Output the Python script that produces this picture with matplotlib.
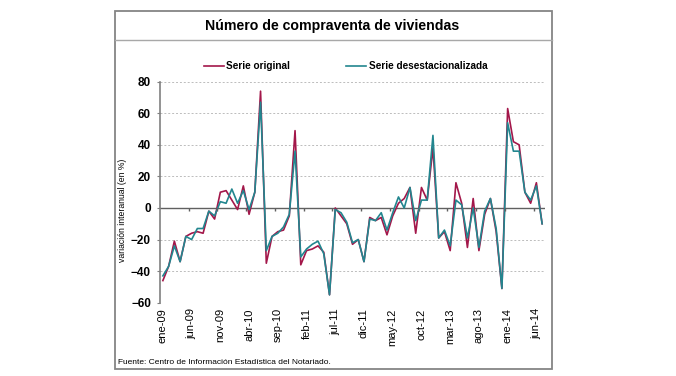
import matplotlib.pyplot as plt
from matplotlib.patches import Rectangle
from matplotlib.lines import Line2D

plt.rcParams['font.family'] = ['Liberation Sans', 'DejaVu Sans']

# meses desde ene-09 hasta jul-14
meses = ['ene', 'feb', 'mar', 'abr', 'may', 'jun', 'jul', 'ago', 'sep', 'oct', 'nov', 'dic']
periodos = [f'{m}-{a:02d}' for a in range(9, 15) for m in meses][:67]

# variacion interanual (%)
serie_original = [-46, -37, -21, -34, -18, -16, -15, -16, -2, -7,
                  10, 11, 5, -1, 14, -4, 10, 74, -35, -18,
                  -15, -14, -5, 49, -36, -27, -26, -24, -28, -55,
                  0, -5, -10, -23, -20, -34, -6, -8, -6, -17,
                  -5, 3, 6, 13, -16, 13, 5, 38, -19, -15,
                  -27, 16, 3, -25, 6, -27, -4, 6, -15, -51,
                  63, 42, 40, 10, 3, 16, -10]
serie_desest = [-43, -37, -24, -34, -18, -20, -13, -13, -2, -5,
                4, 3, 12, 3, 11, -1, 10, 67, -27, -18,
                -16, -12, -4, 36, -31, -26, -23, -21, -29, -55,
                -1, -3, -9, -22, -20, -34, -7, -8, -3, -14,
                -3, 7, 0, 13, -8, 5, 5, 46, -19, -14,
                -24, 5, 2, -19, 0, -25, -2, 6, -13, -51,
                54, 36, 36, 10, 5, 14, -10]

rojo = '#a3174a'
verde = '#22868f'

W, H = 676, 376
fig = plt.figure(figsize=(W / 100, H / 100), dpi=100)

# marco y separador del titulo
fig.patches.append(Rectangle((115 / W, 1 - 369 / H), (552 - 115) / W, (369 - 11) / H,
                             transform=fig.transFigure, fill=False,
                             edgecolor='#858585', linewidth=1.3))
fig.lines.append(Line2D([115 / W, 552 / W], [1 - 40 / H, 1 - 40 / H],
                        transform=fig.transFigure, color='#a8a8a8', linewidth=1))

fig.text(0.492, 1 - 26 / H, 'Número de compraventa de viviendas',
         ha='center', va='center', fontsize=10.2, fontweight='bold')

ax = fig.add_axes([160 / W, 1 - 302.7 / H, 385 / W, 221 / H])
x = list(range(len(periodos)))
l1, = ax.plot(x, serie_original, color=rojo, linewidth=1.2)
l2, = ax.plot(x, serie_desest, color=verde, linewidth=1.2)

ax.set_xlim(-0.5, len(periodos) - 0.5)
ax.set_ylim(-60, 80)
ax.set_yticks(range(-60, 81, 20))
ax.grid(axis='y', linestyle=(0, (2, 2)), color='#bcbcbc', linewidth=0.7)
ax.set_axisbelow(True)
ax.axhline(0, color='#606060', linewidth=1, zorder=1.5)
# marcas pequenas sobre el eje cero cada 5 meses
ax.vlines([k - 0.5 for k in range(5, len(periodos), 5)], -1.8, 0,
          color='#606060', linewidth=1)

for s in ['top', 'right', 'bottom']:
    ax.spines[s].set_visible(False)
ax.spines['left'].set_color('#808080')
ax.spines['left'].set_linewidth(1.2)

ax.set_xticks(x[::5], periodos[::5], rotation=90)
ax.tick_params(axis='x', length=0, pad=4, labelsize=8)
ax.tick_params(axis='y', length=2.5, color='#808080', labelsize=8.5, pad=4)
for lbl in ax.get_yticklabels():
    lbl.set_fontweight('bold')

ax.set_ylabel('variación interanual (en %)', fontsize=6.2)
ax.yaxis.set_label_coords(-0.086, 0.42)

fig.legend([l1, l2], ['Serie original', 'Serie desestacionalizada'],
           loc='center', bbox_to_anchor=(0.511, 1 - 66 / H), ncol=2,
           frameon=False, handlelength=2.0, handletextpad=0.25,
           columnspacing=5.6, prop={'size': 7.2, 'weight': 'bold'})

fig.text(118 / W, 1 - 362 / H,
         'Fuente: Centro de Información Estadística del Notariado.',
         ha='left', va='center', fontsize=6)

fig.savefig('out.png', dpi=100)
